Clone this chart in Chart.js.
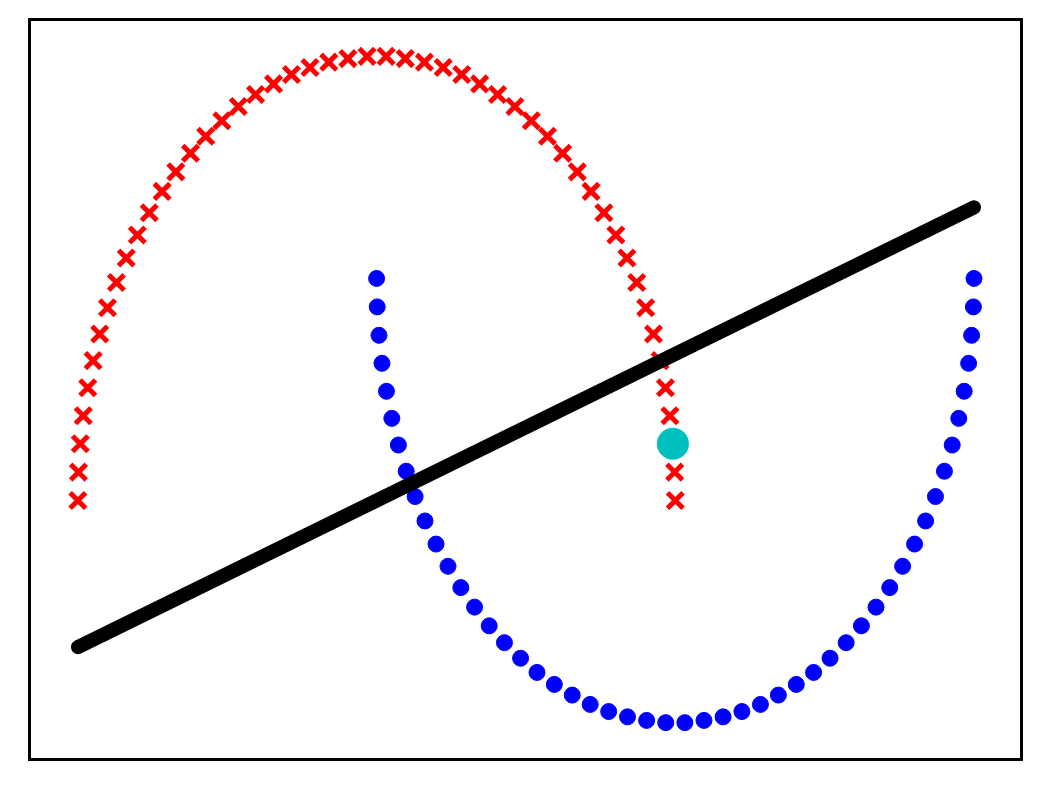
<!DOCTYPE html>
<html>
<head>
<meta charset="utf-8">
<script src="https://cdn.jsdelivr.net/npm/chart.js@4.4.0/dist/chart.umd.min.js"></script>
<style>
  html, body { margin: 0; padding: 0; background: #ffffff; }
  canvas { display: block; }
</style>
</head>
<body>
<canvas id="myChart" width="1042" height="789"></canvas>
<script>
// red crosses - upper half circle
var redX = [-1.000, -0.998, -0.992, -0.982, -0.967, -0.949, -0.927, -0.901, -0.871, -0.838,
            -0.801, -0.761, -0.718, -0.672, -0.623, -0.572, -0.518, -0.463, -0.405, -0.345,
            -0.285, -0.223, -0.160, -0.096, -0.032, 0.032, 0.096, 0.160, 0.223, 0.285,
            0.345, 0.405, 0.463, 0.518, 0.572, 0.623, 0.672, 0.718, 0.761, 0.801,
            0.838, 0.871, 0.901, 0.927, 0.949, 0.967, 0.982, 0.992, 0.998, 1.000];
var redY = [0.000, 0.064, 0.128, 0.191, 0.254, 0.315, 0.375, 0.434, 0.491, 0.546,
            0.598, 0.648, 0.696, 0.740, 0.782, 0.820, 0.855, 0.887, 0.914, 0.938,
            0.959, 0.975, 0.987, 0.995, 1.000, 1.000, 0.995, 0.987, 0.975, 0.959,
            0.938, 0.914, 0.887, 0.855, 0.820, 0.782, 0.740, 0.696, 0.648, 0.598,
            0.546, 0.491, 0.434, 0.375, 0.315, 0.254, 0.191, 0.128, 0.064, 0.000];

// blue dots - lower half circle
var blueX = [0.000, 0.002, 0.008, 0.018, 0.033, 0.051, 0.073, 0.099, 0.129, 0.162,
             0.199, 0.239, 0.282, 0.328, 0.377, 0.428, 0.482, 0.537, 0.595, 0.655,
             0.715, 0.777, 0.840, 0.904, 0.968, 1.032, 1.096, 1.160, 1.223, 1.285,
             1.345, 1.405, 1.463, 1.518, 1.572, 1.623, 1.672, 1.718, 1.761, 1.801,
             1.838, 1.871, 1.901, 1.927, 1.949, 1.967, 1.982, 1.992, 1.998, 2.000];
var blueY = [0.500, 0.436, 0.372, 0.309, 0.246, 0.185, 0.125, 0.066, 0.009, -0.046,
             -0.098, -0.148, -0.196, -0.240, -0.282, -0.320, -0.355, -0.387, -0.414, -0.438,
             -0.459, -0.475, -0.487, -0.495, -0.500, -0.500, -0.495, -0.487, -0.475, -0.459,
             -0.438, -0.414, -0.387, -0.355, -0.320, -0.282, -0.240, -0.196, -0.148, -0.098,
             -0.046, 0.009, 0.066, 0.125, 0.185, 0.246, 0.309, 0.372, 0.436, 0.500];

// black straight line
var lineX = [-1.0, 2.0];
var lineY = [-0.33, 0.66];

// single cyan marker
var cyanX = [0.992];
var cyanY = [0.128];

function toPoints(xs, ys) {
    var pts = [];
    for (var i = 0; i < xs.length; i++) {
        pts.push({ x: xs[i], y: ys[i] });
    }
    return pts;
}

// plain box round the plot area
var frame = {
    id: 'frame',
    afterDraw: function (chart) {
        var a = chart.chartArea;
        var c = chart.ctx;
        c.save();
        c.strokeStyle = '#000000';
        c.lineWidth = 3;
        c.strokeRect(a.left, a.top, a.right - a.left, a.bottom - a.top);
        c.restore();
    }
};

var ctx = document.getElementById("myChart");

var chart = new Chart(ctx, {
    type: 'scatter',
    data: {
        datasets: [{
            data: toPoints(cyanX, cyanY),
            order: 0,
            pointStyle: 'circle',
            pointRadius: 16,
            backgroundColor: '#00bfbf',
            borderColor: '#00bfbf',
            borderWidth: 0
        }, {
            data: toPoints(lineX, lineY),
            order: 1,
            showLine: true,
            pointRadius: 0,
            borderColor: '#000000',
            borderWidth: 14,
            borderCapStyle: 'round'
        }, {
            data: toPoints(blueX, blueY),
            order: 2,
            pointStyle: 'circle',
            pointRadius: 8,
            backgroundColor: '#0000ff',
            borderColor: '#0000ff',
            borderWidth: 1
        }, {
            data: toPoints(redX, redY),
            order: 3,
            pointStyle: 'crossRot',
            pointRadius: 11,
            borderColor: '#ff0000',
            backgroundColor: '#ff0000',
            borderWidth: 5
        }]
    },
    options: {
        responsive: false,
        animation: false,
        events: [],
        layout: {
            padding: { left: 29.5, right: 20.5, top: 19.5, bottom: 29.5 }
        },
        plugins: {
            legend: { display: false },
            tooltip: { enabled: false }
        },
        scales: {
            x: { type: 'linear', display: false, min: -1.162, max: 2.159 },
            y: { type: 'linear', display: false, min: -0.583, max: 1.083 }
        }
    },
    plugins: [frame]
});
</script>
</body>
</html>
